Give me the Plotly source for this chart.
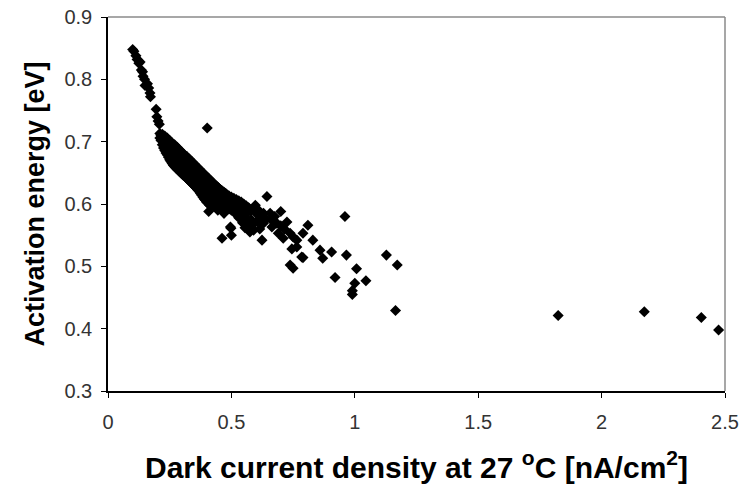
import plotly.graph_objects as go

# dark current density [nA/cm^2] and activation energy [eV]
# sparse chain at the low-current end
chain_x = [0.100, 0.105, 0.113, 0.118, 0.125, 0.130, 0.135, 0.140, 0.142, 0.148,
           0.150, 0.160, 0.165, 0.170, 0.172, 0.195, 0.198, 0.203, 0.208]
chain_y = [0.848, 0.845, 0.838, 0.832, 0.826, 0.828, 0.815, 0.812, 0.805, 0.800,
           0.790, 0.793, 0.786, 0.778, 0.772, 0.752, 0.740, 0.733, 0.728]

# dense band: one x per column, several energies per column
band_x = [0.210, 0.215, 0.220, 0.225, 0.230, 0.235, 0.240, 0.245, 0.250, 0.255,
          0.260, 0.265, 0.270, 0.275, 0.280, 0.285, 0.290, 0.295, 0.300, 0.305,
          0.310, 0.315, 0.320, 0.325, 0.330, 0.335, 0.340, 0.345, 0.350, 0.355,
          0.360, 0.365, 0.370, 0.375, 0.380, 0.385, 0.390, 0.395, 0.400, 0.405,
          0.410, 0.415, 0.420, 0.425, 0.430, 0.435, 0.440, 0.445, 0.450, 0.455,
          0.460, 0.465, 0.470, 0.475, 0.480, 0.490, 0.500, 0.510, 0.520, 0.530,
          0.540, 0.550, 0.560, 0.570, 0.580]
band_y = [
    [0.713, 0.706], [0.710, 0.702], [0.712, 0.704, 0.695], [0.708, 0.699, 0.690],
    [0.709, 0.700, 0.692, 0.686], [0.705, 0.697, 0.689, 0.682],
    [0.706, 0.697, 0.688, 0.679], [0.701, 0.693, 0.684, 0.675],
    [0.702, 0.694, 0.686, 0.678, 0.671], [0.697, 0.689, 0.681, 0.674, 0.668],
    [0.698, 0.689, 0.681, 0.673, 0.665], [0.694, 0.686, 0.678, 0.670, 0.662],
    [0.695, 0.686, 0.677, 0.668, 0.660], [0.690, 0.682, 0.674, 0.666, 0.658],
    [0.691, 0.682, 0.673, 0.664, 0.656], [0.686, 0.678, 0.670, 0.662, 0.654],
    [0.687, 0.678, 0.669, 0.660, 0.652], [0.682, 0.674, 0.666, 0.658, 0.650],
    [0.683, 0.674, 0.665, 0.656, 0.648], [0.679, 0.670, 0.662, 0.654, 0.646],
    [0.679, 0.670, 0.661, 0.653, 0.645], [0.676, 0.667, 0.658, 0.650, 0.643],
    [0.676, 0.667, 0.657, 0.648, 0.641], [0.672, 0.663, 0.654, 0.646, 0.639],
    [0.672, 0.663, 0.653, 0.644, 0.637], [0.668, 0.659, 0.650, 0.642, 0.635],
    [0.668, 0.659, 0.649, 0.640, 0.633], [0.664, 0.655, 0.646, 0.638, 0.631],
    [0.664, 0.655, 0.645, 0.636, 0.629], [0.660, 0.651, 0.642, 0.634, 0.627],
    [0.660, 0.651, 0.641, 0.632, 0.625], [0.656, 0.647, 0.638, 0.630, 0.622],
    [0.656, 0.646, 0.637, 0.628, 0.620], [0.652, 0.643, 0.633, 0.625, 0.617],
    [0.652, 0.642, 0.632, 0.623, 0.614], [0.648, 0.639, 0.629, 0.620, 0.611],
    [0.648, 0.638, 0.627, 0.617, 0.608], [0.644, 0.634, 0.624, 0.615, 0.606],
    [0.644, 0.633, 0.623, 0.613, 0.603], [0.642, 0.632, 0.622, 0.612, 0.602],
    [0.640, 0.630, 0.620, 0.610, 0.601], [0.638, 0.628, 0.618, 0.609, 0.600],
    [0.636, 0.626, 0.617, 0.608, 0.599], [0.634, 0.625, 0.615, 0.606, 0.598],
    [0.632, 0.623, 0.613, 0.605, 0.597], [0.630, 0.621, 0.612, 0.604, 0.596],
    [0.629, 0.620, 0.611, 0.603, 0.595], [0.627, 0.618, 0.610, 0.602, 0.594],
    [0.625, 0.616, 0.608, 0.600], [0.623, 0.615, 0.607, 0.599],
    [0.622, 0.614, 0.606, 0.598], [0.620, 0.612, 0.604, 0.597],
    [0.619, 0.611, 0.603, 0.595], [0.617, 0.609, 0.602, 0.594],
    [0.616, 0.608, 0.601, 0.593], [0.613, 0.606, 0.599, 0.592],
    [0.611, 0.604, 0.598, 0.590], [0.609, 0.602, 0.596, 0.589],
    [0.607, 0.600, 0.594, 0.588], [0.605, 0.598, 0.592],
    [0.603, 0.596, 0.590], [0.600, 0.594, 0.588],
    [0.597, 0.591, 0.586], [0.594, 0.588], [0.590],
]

# scattered points around and beyond the band
spread_x = [0.402, 0.408, 0.412, 0.445, 0.470, 0.462, 0.498, 0.500, 0.496, 0.520,
            0.530, 0.536, 0.545, 0.550, 0.550, 0.555, 0.563, 0.565, 0.575, 0.580,
            0.585, 0.590, 0.597, 0.600, 0.605, 0.610, 0.615, 0.620, 0.624, 0.630,
            0.630, 0.640, 0.644, 0.657, 0.660, 0.664, 0.675, 0.684, 0.690, 0.700,
            0.700, 0.710, 0.715, 0.725, 0.738, 0.738, 0.745, 0.750, 0.750, 0.765,
            0.765, 0.785, 0.790, 0.790, 0.810, 0.830, 0.859, 0.870, 0.906, 0.920,
            0.960, 0.966, 0.990, 0.990, 1.000, 1.007, 1.045, 1.128, 1.165, 1.172,
            1.824, 2.173, 2.404, 2.474]
spread_y = [0.722, 0.588, 0.598, 0.590, 0.585, 0.545, 0.561, 0.550, 0.563, 0.583,
            0.578, 0.585, 0.570, 0.580, 0.569, 0.562, 0.574, 0.567, 0.555, 0.575,
            0.566, 0.558, 0.598, 0.585, 0.572, 0.590, 0.560, 0.578, 0.542, 0.585,
            0.569, 0.575, 0.612, 0.585, 0.575, 0.563, 0.580, 0.569, 0.553, 0.588,
            0.565, 0.545, 0.560, 0.571, 0.553, 0.502, 0.528, 0.547, 0.497, 0.542,
            0.531, 0.515, 0.553, 0.514, 0.566, 0.542, 0.526, 0.513, 0.523, 0.482,
            0.580, 0.518, 0.461, 0.455, 0.473, 0.496, 0.477, 0.518, 0.429, 0.502,
            0.421, 0.427, 0.418, 0.398]

x = list(chain_x)
y = list(chain_y)
for bx, col in zip(band_x, band_y):
    for by in col:
        x.append(bx)
        y.append(by)
x += spread_x
y += spread_y

x_ticks = [0, 0.5, 1, 1.5, 2, 2.5]
x_labels = ['0', '0.5', '1', '1.5', '2', '2.5']
y_ticks = [0.3, 0.4, 0.5, 0.6, 0.7, 0.8, 0.9]

fig = go.Figure()

fig.add_trace(go.Scatter(
    x=x, y=y,
    mode='markers',
    marker=dict(symbol='diamond', size=8.5, color='black'),
    showlegend=False,
    cliponaxis=False
))

# grey top and right edges of the plot frame, like the original
frame = dict(color='#8a8a8a', width=1.5)
fig.add_shape(type='line', xref='paper', yref='paper', x0=0, y0=1, x1=1, y1=1,
              line=frame, layer='above')
fig.add_shape(type='line', xref='paper', yref='paper', x0=1, y0=0, x1=1, y1=1,
              line=frame, layer='above')

fig.update_xaxes(
    range=[0, 2.5],
    tickvals=x_ticks, ticktext=x_labels,
    ticks='outside', ticklen=5, tickcolor='black',
    ticklabelstandoff=7, ticklabeloverflow='allow',
    showline=True, linecolor='black', linewidth=1.5,
    showgrid=False, zeroline=False, automargin=False,
    tickfont=dict(family='Liberation Sans, Arial', size=20, color='#333'),
    title=dict(text='<b>Dark current density at 27 <sup>o</sup>C [nA/cm<sup>2</sup>]</b>',
               font=dict(family='Liberation Sans, Arial', size=30, color='black'),
               standoff=25)
)
fig.update_yaxes(
    range=[0.3, 0.9],
    tickvals=y_ticks, tickformat='.1f',
    ticks='outside', ticklen=5, tickcolor='black',
    ticklabelstandoff=5, ticklabeloverflow='allow',
    showline=True, linecolor='black', linewidth=1.5,
    showgrid=False, zeroline=False, automargin=False,
    tickfont=dict(family='Liberation Sans, Arial', size=20, color='#333'),
    title=dict(text='<b>Activation energy [eV]</b>',
               font=dict(family='Liberation Sans, Arial', size=27, color='black'),
               standoff=12)
)

fig.update_layout(
    width=743, height=502,
    margin=dict(l=108, r=18, t=17, b=111),
    plot_bgcolor='white', paper_bgcolor='white',
    font=dict(family='Liberation Sans, Arial')
)

# drop the default 8px page margin so the figure sits at the window corner
fig.write_html('out.html', config={'displayModeBar': False},
               post_script="document.body.style.margin='0';")
